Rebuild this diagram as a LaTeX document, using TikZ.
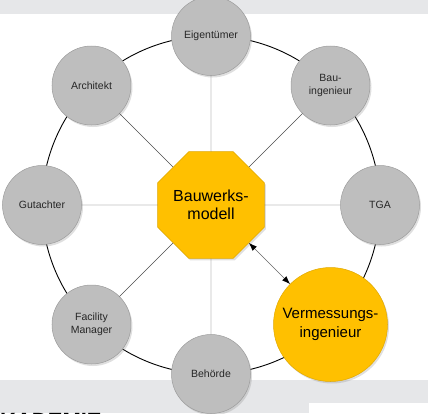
\documentclass[tikz,border=0pt]{standalone}
\usepackage{fontspec}
\setmainfont{Liberation Sans}
\usetikzlibrary{shapes.geometric,shadows,arrows.meta}
\definecolor{bandgrau}{HTML}{E6E7E9}
\definecolor{kreisgrau}{HTML}{BEBEBE}
\definecolor{randgrau}{HTML}{9C9C9C}
\definecolor{gelb}{HTML}{FFC000}
\definecolor{gelbrand}{HTML}{E0A800}
\tikzset{
	schatten/.style={drop shadow={shadow xshift=1.5pt, shadow yshift=-2pt, opacity=0.25}},
	akteur/.style={circle, fill=kreisgrau, draw=randgrau, line width=0.5pt, minimum size=79pt,
		inner sep=0pt, align=center, text=black!85, font=\fontsize{10.5}{12.5}\selectfont, schatten},
	modell/.style={regular polygon, regular polygon sides=8, fill=gelb, draw=gelbrand, line width=0.5pt,
		minimum size=102pt, inner sep=0pt, align=center, font=\fontsize{16}{18}\selectfont, schatten},
	vermesser/.style={circle, fill=gelb, draw=gelbrand, line width=0.5pt, minimum size=114pt,
		inner sep=0pt, align=center, font=\fontsize{15}{19}\selectfont, schatten},
	speiche/.style={draw=black!70, line width=0.4pt}
}
\begin{document}
\begin{tikzpicture}[x=1pt, y=1pt, >={Latex[length=8pt,width=6pt,color=black]}, line join=round, line cap=round]
	\def\r{169} % Radius des Rings
	\clip (-211,-208) rectangle (217,205);
	% Hintergrund
	\fill[bandgrau] (-211,191) rectangle (217,205);
	\fill[bandgrau] (-211,-208) rectangle (217,-175);
	\fill[white] (98,-208) rectangle (217,-198);
	\node[anchor=north west, inner sep=0pt, font=\fontsize{22}{22}\selectfont\bfseries] (akad) at (-211,-208.5) {KADEMIE};
	\draw[line width=0.9pt] (0,0) circle (\r);
	% Knoten
	\node[modell] (bm) at (0,0) {Bauwerks-\\modell};
	\node[akteur] (eig) at (90:\r) {Eigentümer};
	\node[akteur] (bau) at (45:\r) {Bau-\\ingenieur};
	\node[akteur] (tga) at (0:\r) {TGA};
	\node[vermesser] (vi) at (-45:\r) {Vermessungs-\\ingenieur};
	\node[akteur] (beh) at (-90:\r) {Behörde};
	\node[akteur] (fac) at (-135:\r) {Facility\\Manager};
	\node[akteur] (gut) at (180:\r) {Gutachter};
	\node[akteur] (arc) at (135:\r) {Architekt};
	% Verbindungen
	\foreach \n in {eig,bau,tga,beh,fac,gut,arc}
		\draw[speiche] (bm) -- (\n);
	\draw[<->, draw=black!60, line width=0.5pt] (bm) -- (vi);
\end{tikzpicture}
\end{document}
